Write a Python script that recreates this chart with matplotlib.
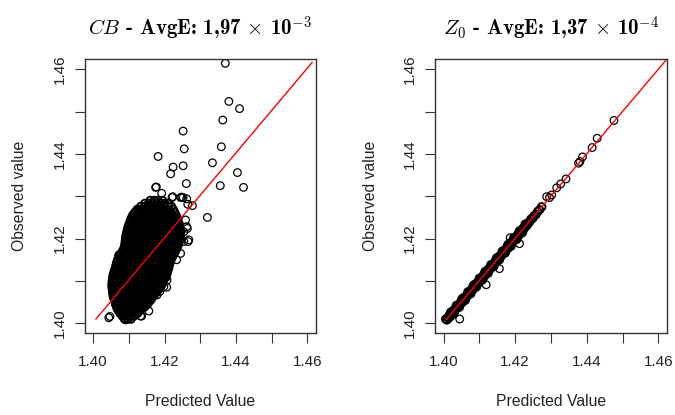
import numpy as np
import matplotlib
matplotlib.use("Agg")
import matplotlib.pyplot as plt

plt.rcParams['font.family'] = ['Liberation Sans', 'DejaVu Sans']
plt.rcParams['mathtext.fontset'] = 'cm'

# CB, dense core: one row per observed level, predicted values along that row
# (both given in ten-thousandths above 1.40)
cb_core_obs = [10, 17, 24, 31, 38, 45, 52, 59, 66, 73, 80, 87, 94, 101, 108,
               115, 122, 129, 136, 143, 150, 157, 164, 171, 178, 185, 192, 199,
               206, 213, 220, 227, 234, 241, 248, 255, 262, 269, 276, 283, 290]
cb_core_pred = [
    [88, 98, 106],
    [82, 93, 104, 114],
    [75, 86, 97, 108, 119, 125],
    [70, 81, 92, 103, 114, 125, 132],
    [66, 77, 88, 99, 110, 121, 132, 143],
    [63, 74, 85, 96, 107, 118, 129, 140, 152],
    [61, 71, 82, 93, 104, 115, 126, 137, 148, 158],
    [58, 68, 79, 90, 101, 112, 123, 134, 145, 156, 164],
    [56, 66, 77, 88, 99, 110, 121, 132, 143, 154, 165, 171],
    [55, 65, 76, 87, 98, 109, 120, 131, 142, 153, 164, 176],
    [54, 63, 74, 85, 96, 107, 118, 129, 140, 151, 162, 173, 183],
    [53, 64, 75, 86, 97, 108, 119, 130, 141, 152, 163, 174, 185, 190],
    [53, 62, 73, 84, 95, 106, 117, 128, 139, 150, 161, 172, 183, 194],
    [54, 65, 76, 87, 98, 109, 120, 131, 142, 153, 164, 175, 186, 197],
    [55, 64, 75, 86, 97, 108, 119, 130, 141, 152, 163, 174, 185, 196, 203],
    [57, 67, 78, 89, 100, 111, 122, 133, 144, 155, 166, 177, 188, 199, 206],
    [59, 70, 81, 92, 103, 114, 125, 136, 147, 158, 169, 180, 191, 202, 208],
    [62, 72, 83, 94, 105, 116, 127, 138, 149, 160, 171, 182, 193, 204, 211],
    [64, 75, 86, 97, 108, 119, 130, 141, 152, 163, 174, 185, 196, 207, 213],
    [66, 77, 88, 99, 110, 121, 132, 143, 154, 165, 176, 187, 198, 209, 215],
    [69, 80, 91, 102, 113, 124, 135, 146, 157, 168, 179, 190, 201, 212, 218],
    [72, 83, 94, 105, 116, 127, 138, 149, 160, 171, 182, 193, 204, 215, 222],
    [77, 88, 99, 110, 121, 132, 143, 154, 165, 176, 187, 198, 209, 220, 226],
    [83, 93, 104, 115, 126, 137, 148, 159, 170, 181, 192, 203, 214, 225, 231],
    [87, 98, 109, 120, 131, 142, 153, 164, 175, 186, 197, 208, 219, 230, 235],
    [89, 100, 111, 122, 133, 144, 155, 166, 177, 188, 199, 210, 221, 232, 238],
    [90, 101, 112, 123, 134, 145, 156, 167, 178, 189, 200, 211, 222, 233, 241],
    [91, 102, 113, 124, 135, 146, 157, 168, 179, 190, 201, 212, 223, 234, 243],
    [92, 103, 114, 125, 136, 147, 158, 169, 180, 191, 202, 213, 224, 235, 244],
    [94, 105, 116, 127, 138, 149, 160, 171, 182, 193, 204, 215, 226, 237, 245],
    [96, 107, 118, 129, 140, 151, 162, 173, 184, 195, 206, 217, 228, 238, 243],
    [98, 109, 120, 131, 142, 153, 164, 175, 186, 197, 208, 219, 230, 241],
    [101, 112, 123, 134, 145, 156, 167, 178, 189, 200, 211, 222, 233, 239],
    [104, 115, 126, 137, 148, 159, 170, 181, 192, 203, 214, 225, 237],
    [107, 118, 129, 140, 151, 162, 173, 184, 195, 206, 217, 228, 235],
    [111, 122, 133, 144, 155, 166, 177, 188, 199, 210, 221, 232],
    [117, 128, 139, 150, 161, 172, 183, 194, 205, 216, 228],
    [124, 135, 146, 157, 168, 179, 190, 201, 212, 224],
    [134, 145, 156, 167, 178, 189, 200, 211, 219],
    [145, 156, 167, 178, 189, 200, 210],
    [160, 171, 182, 194],
]

# CB, in-between rows that close the gaps of the core (same units)
cb_fill_obs = [27, 41, 55, 69, 83, 97, 111, 125, 139, 153, 167, 181, 195,
               209, 223, 237, 251, 265]
cb_fill_pred = [
    [80, 91, 102, 113, 122],
    [70, 82, 93, 104, 115, 126, 137, 146],
    [64, 76, 87, 98, 109, 120, 131, 142, 153, 161],
    [60, 71, 82, 93, 104, 115, 126, 137, 148, 159, 170],
    [58, 69, 80, 91, 102, 113, 124, 135, 146, 157, 168, 179, 186],
    [58, 69, 80, 91, 102, 113, 124, 135, 146, 157, 168, 179, 190],
    [60, 71, 82, 93, 104, 115, 126, 137, 148, 159, 170, 181, 192, 201],
    [64, 75, 86, 97, 108, 119, 130, 141, 152, 163, 174, 185, 196, 206],
    [70, 81, 92, 103, 114, 125, 136, 147, 158, 169, 180, 191, 202, 210],
    [76, 87, 98, 109, 120, 131, 142, 153, 164, 175, 186, 197, 208, 217],
    [86, 97, 108, 119, 130, 141, 152, 163, 174, 185, 196, 207, 218, 227],
    [93, 104, 115, 126, 137, 148, 159, 170, 181, 192, 203, 214, 225, 234],
    [96, 107, 118, 129, 140, 151, 162, 173, 184, 195, 206, 217, 228, 238],
    [98, 109, 120, 131, 142, 153, 164, 175, 186, 197, 208, 219, 230, 239],
    [103, 114, 125, 136, 147, 158, 169, 180, 191, 202, 213, 224, 235],
    [107, 118, 129, 140, 151, 162, 173, 184, 195, 206, 217, 228],
    [115, 126, 137, 148, 159, 170, 181, 192, 203, 214, 225],
    [128, 139, 150, 161, 172, 183, 194, 205, 216],
]

# CB, loose points around the core and the upper tail
cb_pred = [1.4370, 1.4380, 1.4410, 1.4363, 1.4252, 1.4255, 1.4182, 1.4359,
           1.4224, 1.4217, 1.4252, 1.4334, 1.4404, 1.4421, 1.4356, 1.4261,
           1.4177, 1.4192, 1.4320, 1.4223, 1.4248, 1.4262, 1.4278, 1.4159,
           1.4126, 1.4114,
           1.4067, 1.4063, 1.4072, 1.4109, 1.4105, 1.4095, 1.4100, 1.4259,
           1.4264, 1.4254, 1.4268, 1.4245, 1.4254, 1.4207, 1.4198, 1.4179,
           1.4221, 1.4245, 1.4252, 1.4265, 1.4125, 1.4175, 1.4262, 1.4266,
           1.4234, 1.4206, 1.4187, 1.4136, 1.4047, 1.4089, 1.4056, 1.4061,
           1.4080, 1.4103, 1.4044, 1.4091, 1.4133, 1.4156]
cb_obs = [1.4614, 1.4524, 1.4507, 1.4480, 1.4454, 1.4412, 1.4394, 1.4417,
          1.4369, 1.4353, 1.4372, 1.4379, 1.4356, 1.4321, 1.4325, 1.4330,
          1.4322, 1.4307, 1.4250, 1.4299, 1.4298, 1.4294, 1.4278, 1.4278,
          1.4266, 1.4248,
          1.4118, 1.4094, 1.4161, 1.4248, 1.4228, 1.4213, 1.4197, 1.4244,
          1.4224, 1.4216, 1.4197, 1.4165, 1.4193, 1.4102, 1.4086, 1.4067,
          1.4297, 1.4297, 1.4297, 1.4281, 1.4266, 1.4321, 1.4228, 1.4193,
          1.4150, 1.4085, 1.4075, 1.4017, 1.4016, 1.4012, 1.4090, 1.4055,
          1.4154, 1.4216, 1.4013, 1.4008, 1.4017, 1.4029]

# Z0, narrow band along the diagonal (ten-thousandths above 1.40)
z0_band_pred = [9, 12, 14, 17, 19, 22, 25, 27, 30, 33, 35, 38, 41, 43, 46, 49,
                51, 54, 57, 59, 62, 65, 67, 70, 73, 75, 78, 81, 83, 86, 89, 91,
                94, 97, 99, 102, 105, 107, 110, 113, 115, 118, 121, 123, 126,
                129, 131, 134, 137, 139, 142, 145, 147, 150, 153, 155, 158, 161,
                163, 166, 169, 171, 174, 177, 179, 182, 185, 187, 190, 193, 195,
                198, 201, 203, 206, 209, 211, 214, 217, 219, 222, 225, 227, 230,
                233, 236, 240, 244, 249, 253, 258, 263, 268, 274]
z0_band_obs = [8, 14, 12, 20, 16, 23, 23, 30, 27, 35, 34, 41, 38, 44, 44, 52,
               48, 56, 55, 62, 59, 66, 65, 73, 70, 77, 76, 84, 80, 87, 87, 94,
               91, 99, 98, 105, 102, 109, 108, 116, 112, 119, 119, 126, 123,
               131, 129, 137, 134, 140, 140, 148, 144, 152, 151, 158, 155, 162,
               161, 169, 166, 173, 172, 180, 176, 183, 183, 190, 187, 195, 194,
               201, 198, 205, 204, 212, 208, 215, 215, 222, 219, 227, 226, 232,
               231, 237, 239, 246, 248, 254, 257, 264, 268, 275]

# Z0, points on the two edges of the band (same units)
z0_edge_pred = [20, 28, 36, 44, 52, 60, 68, 76, 84, 92, 100, 108, 116, 124,
                132, 140, 148, 156, 164, 172, 180, 188, 196, 204, 212, 220, 228]
z0_edge_obs = [26, 22, 42, 38, 58, 54, 74, 70, 90, 86, 106, 102, 122, 118,
               138, 134, 154, 150, 170, 166, 186, 182, 202, 198, 218, 214, 234]

# Z0, points off the band and the upper tail
z0_pred = [1.4288, 1.4296, 1.4302, 1.4316, 1.4327, 1.4342, 1.4377, 1.4381,
           1.4388, 1.4415, 1.4429, 1.4476, 1.4186, 1.4212, 1.4156, 1.4119,
           1.4045, 1.4009, 1.4005]
z0_obs = [1.4299, 1.4297, 1.4303, 1.4320, 1.4329, 1.4341, 1.4378, 1.4382,
          1.4393, 1.4415, 1.4437, 1.4479, 1.4202, 1.4188, 1.4129, 1.4091,
          1.4010, 1.4008, 1.4010]

# fitted lines (start, end)
cb_fit_x = [1.4008, 1.4613]
cb_fit_y = [1.4010, 1.4616]
z0_fit_x = [1.4009, 1.4700]
z0_fit_y = [1.4010, 1.4700]

ticks = [1.40, 1.41, 1.42, 1.43, 1.44, 1.45, 1.46]
tick_labels = ['1.40', '', '1.42', '', '1.44', '', '1.46']
lo, hi = 1.40, 1.46
pad = 0.04 * (hi - lo)

titles = [r"$CB$ - AvgE: 1,97 $\times$ 10$^{\mathbf{-3}}$",
          r"$Z_0$ - AvgE: 1,37 $\times$ 10$^{\mathbf{-4}}$"]


def expand(levels, rows):
    xs = [lo + p / 1e4 for row in rows for p in row]
    ys = [lo + o / 1e4 for o, row in zip(levels, rows) for _ in row]
    return xs, ys


core_x, core_y = expand(cb_core_obs, cb_core_pred)
fill_x, fill_y = expand(cb_fill_obs, cb_fill_pred)
band_x = [lo + p / 1e4 for p in z0_band_pred + z0_edge_pred]
band_y = [lo + o / 1e4 for o in z0_band_obs + z0_edge_obs]

fig = plt.figure(figsize=(6.75, 4.15), dpi=100)
ax1 = fig.add_axes([0.1252, 0.1966, 0.3430, 0.6610])
ax2 = fig.add_axes([0.6444, 0.1966, 0.3437, 0.6610])

pts = dict(s=30, facecolors='none', edgecolors='black', linewidths=0.9)
dense = dict(pts, linewidths=1.3)
ax1.scatter(core_x, core_y, **dense)
ax1.scatter(fill_x, fill_y, **dense)
ax1.scatter(cb_pred, cb_obs, **pts)
ax1.plot(cb_fit_x, cb_fit_y, color='red', lw=1.0)

ax2.scatter(band_x, band_y, **dense)
ax2.scatter(z0_pred, z0_obs, **pts)
ax2.plot(z0_fit_x, z0_fit_y, color='red', lw=1.0)

for ax, title in zip([ax1, ax2], titles):
    ax.set_xlim(lo - pad, hi + pad)
    ax.set_ylim(lo - pad, hi + pad)
    ax.set_xticks(ticks)
    ax.set_xticklabels(tick_labels)
    ax.set_yticks(ticks)
    ax.set_yticklabels(tick_labels, rotation=90, va='center')
    ax.tick_params(length=7, width=0.8, color='#333333', labelsize=11,
                   labelcolor='#222222')
    ax.tick_params(axis='x', pad=8.5)
    ax.tick_params(axis='y', pad=6)
    for sp in ax.spines.values():
        sp.set_color('#333333')
        sp.set_linewidth(1.0)
    ax.set_xlabel('Predicted Value', fontsize=11.3, color='#222222')
    ax.set_ylabel('Observed value', fontsize=11.3, color='#222222')
    ax.xaxis.set_label_coords(0.5, -0.25)
    ax.xaxis.label.set_va('center')
    ax.yaxis.set_label_coords(-0.28, 0.5)
    ax.yaxis.label.set_va('center')
    ax.text(0.5, 1.11, title, transform=ax.transAxes, ha='center', va='center',
            fontsize=15, fontfamily='cmb10', color='black')

fig.savefig('out.png', dpi=100)
